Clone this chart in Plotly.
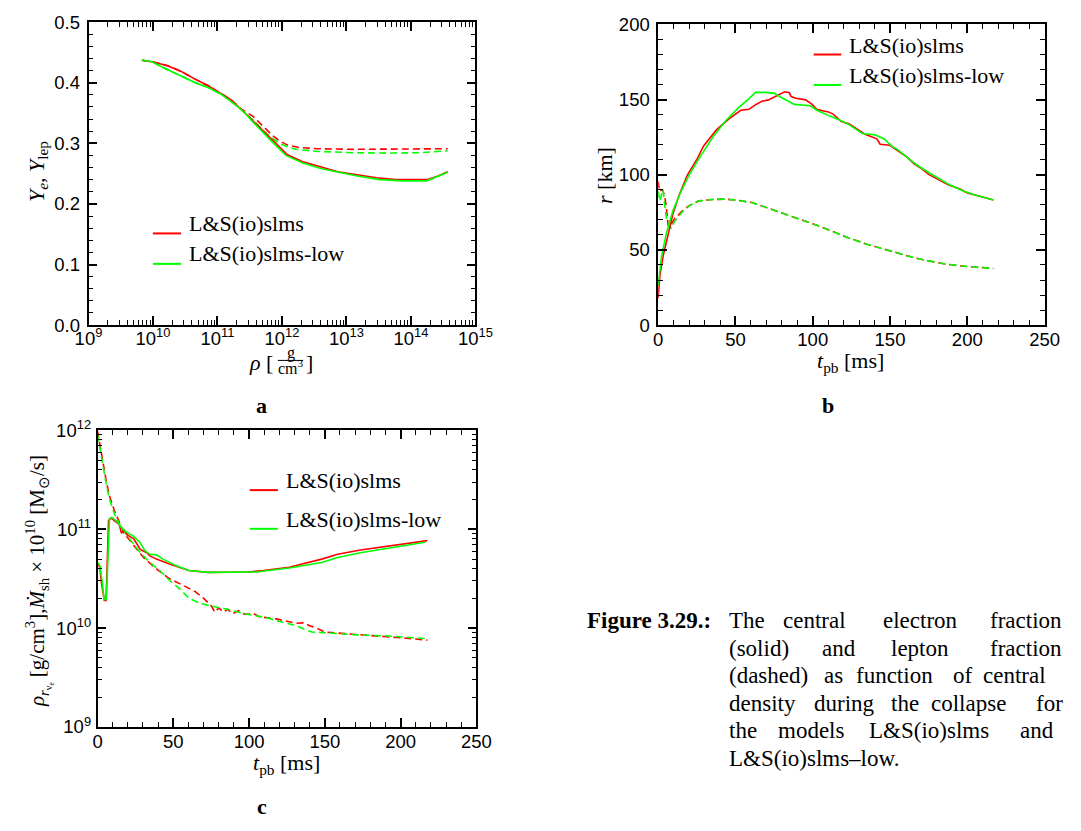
import plotly.graph_objects as go

# ---------------- panel a: central Ye / Ylep vs central density ----------------
a_rho_red = [6.73e9, 1.007e10, 1.69e10, 2.69e10, 4.28e10, 7.19e10, 1.14e11, 1.61e11, 2.29e11,
             3.24e11, 4.57e11, 6.47e11, 8.63e11, 1.22e12, 2.06e12, 4.11e12, 7.33e12, 1.47e13,
             2.93e13, 5.87e13, 1.05e14, 1.76e14, 2.64e14, 3.73e14]
a_ye_red = [0.437, 0.434, 0.428, 0.419, 0.407, 0.395, 0.382, 0.372, 0.357,
            0.341, 0.325, 0.309, 0.296, 0.281, 0.270, 0.261, 0.253, 0.248,
            0.243, 0.240, 0.240, 0.240, 0.246, 0.253]
a_rho_green = [6.73e9, 9.5e9, 1.43e10, 2.54e10, 4.53e10, 7.19e10, 1.14e11, 1.82e11, 2.56e11,
               3.63e11, 5.14e11, 7.26e11, 1.15e12, 2.06e12, 4.11e12, 7.33e12, 1.47e13,
               3.30e13, 7.40e13, 1.76e14, 2.64e14, 3.73e14]
a_ye_green = [0.437, 0.435, 0.425, 0.413, 0.400, 0.392, 0.381, 0.365, 0.352,
              0.334, 0.317, 0.301, 0.280, 0.268, 0.258, 0.252, 0.246,
              0.240, 0.238, 0.238, 0.245, 0.252]
a_rho_red_lep = [6.73e9, 1.007e10, 1.69e10, 2.69e10, 4.28e10, 7.19e10, 1.14e11, 1.61e11, 2.29e11,
                 2.88e11, 3.63e11, 4.57e11, 5.77e11, 7.26e11, 9.16e11, 1.22e12, 1.83e12,
                 3.66e12, 1.31e13, 4.15e13, 1.32e14, 3.73e14]
a_ylep_red = [0.437, 0.434, 0.428, 0.419, 0.407, 0.395, 0.382, 0.372, 0.357,
              0.350, 0.344, 0.333, 0.322, 0.312, 0.304, 0.297, 0.293,
              0.291, 0.290, 0.290, 0.290, 0.291]
a_rho_green_lep = [6.73e9, 9.5e9, 1.43e10, 2.54e10, 4.53e10, 7.19e10, 1.14e11, 1.82e11, 2.56e11,
                   3.63e11, 5.14e11, 7.26e11, 1.03e12, 1.63e12, 3.66e12, 1.31e13, 4.15e13,
                   1.32e14, 3.73e14]
a_ylep_green = [0.437, 0.435, 0.425, 0.413, 0.400, 0.392, 0.381, 0.365, 0.352,
                0.338, 0.321, 0.307, 0.297, 0.290, 0.2865, 0.2844, 0.2838,
                0.2844, 0.2876]

# ---------------- panel b: shock radius (solid) and nu_e sphere (dashed) ----------------
b_t_red = [0, 1.1, 3.2, 6.4, 9.5, 13.7, 18.9, 25.2, 29.4, 37.8, 46.2, 53.5, 58.7, 62.9, 67.1,
           71.3, 77.6, 81.8, 84.9, 86.0, 89.1, 95.4, 99.6, 102.7, 110.1, 113.2, 118.5, 123.7,
           130.0, 134.2, 141.5, 143.6, 149.9, 154.1, 160.3, 165.6, 169.8, 175.0, 181.3, 187.6,
           194.9, 200.1, 207.5, 212.7, 216.9]
b_r_red = [17.9, 33, 45.9, 61, 73.9, 86.8, 99.8, 110.6, 119.2, 130.0, 137.5, 142.9, 143.5, 146.5,
           148.9, 149.8, 153.2, 155.2, 154.5, 152.0, 150.9, 149.8, 146.8, 143.3, 141.8, 140.3,
           135.4, 133.8, 129.5, 126.7, 123.9, 120.3, 119.6, 116.6, 112.3, 107.3, 104.5, 100.2,
           96.6, 93.3, 90.7, 87.9, 85.8, 84.1, 83.2]
b_t_green = [0, 2.2, 5.3, 9.5, 14.8, 20, 26.3, 35.7, 44.1, 52.5, 58.7, 62.9, 69.2, 75.5, 77.6,
             80.7, 88.1, 98.5, 102.7, 111.1, 117.4, 123.7, 132.1, 140.4, 146.7, 150.9, 155.1,
             163.5, 167.7, 175.0, 181.3, 188.6, 197.0, 205.4, 211.7, 216.9]
b_r_green = [26.5, 45.9, 61, 76, 89, 99.8, 110.6, 125.6, 136.4, 145.1, 150.5, 154.8, 154.8, 154.1,
             152.5, 150.9, 146.8, 145.9, 142.9, 139.0, 136.4, 133.2, 127.4, 126.5, 123.5, 119.2,
             116.6, 109.5, 106.3, 101.5, 97.6, 93.3, 89.4, 86.4, 84.7, 83.2]
b_t_red_nu = [0, 0.8, 2.8, 4.2, 5.3, 6.4, 7.4, 10.6, 15.8, 20, 26.3, 35, 43, 50, 60.8, 70, 81.8,
              92, 102.7, 113, 123.7, 135, 146.7, 155, 165.6, 175, 186.6, 200, 216.9]
b_r_red_nu = [95.5, 89, 90, 86, 78.2, 66.4, 65.3, 70.7, 76.1, 79.5, 82.6, 83.5, 83.8, 83.2, 81.5,
              78.2, 73.9, 70, 66.4, 62.2, 57.8, 53.8, 50.2, 47.8, 44.8, 42.7, 40.5, 39, 37.7]
b_t_green_nu = [0, 1.1, 2.2, 3.2, 4.2, 5.5, 8.5, 10.6, 15.8, 20, 26.3, 35, 43, 50, 60.8, 70, 81.8,
                92, 102.7, 113, 123.7, 135, 146.7, 155, 165.6, 175, 186.6, 200, 216.9]
b_r_green_nu = [89, 82.5, 87, 90, 80, 70, 64.2, 69, 75.5, 79.3, 82.5, 83.5, 83.8, 83.2, 81.5,
                78.2, 73.9, 70, 66.4, 62.2, 57.8, 53.8, 50.2, 47.8, 44.8, 42.7, 40.5, 39, 37.7]

# ---------------- panel c: density at nu_e sphere (dashed), mass accretion rate (solid) ----------------
c_t_red = [0, 1.5, 2.6, 4.5, 5.6, 6.4, 7.3, 9.0, 11.1, 14.3, 15.8, 17.5, 19.7, 21.8, 23.9, 28.2,
           32.5, 34.6, 38.9, 47.4, 60.3, 73.1, 85.9, 98.7, 109.4, 126.5, 147.9, 158.5, 173.5,
           190.6, 205.6, 217.7]
c_mdot_red = [4.46e10, 4.13e10, 2.83e10, 1.9e10, 1.9e10, 6.03e10, 1.23e11, 1.30e11, 1.23e11,
              1.12e11, 9.12e10, 9.84e10, 8.79e10, 8.47e10, 8.02e10, 6.25e10, 5.79e10, 5.38e10,
              4.99e10, 4.46e10, 3.83e10, 3.66e10, 3.66e10, 3.69e10, 3.83e10, 4.13e10, 4.99e10,
              5.58e10, 6.17e10, 6.75e10, 7.28e10, 7.67e10]
c_t_green = [0, 1.5, 3.2, 4.3, 5.8, 6.8, 7.9, 9.4, 13.2, 15.3, 18.6, 23.9, 28.2, 31.4, 34.6, 38.9,
             43.2, 51.7, 60.3, 73.1, 85.9, 98.7, 105.1, 126.5, 147.9, 158.5, 173.5, 190.6,
             205.6, 216.2]
c_mdot_green = [4.62e10, 4.29e10, 2.83e10, 1.94e10, 1.97e10, 6.03e10, 1.28e11, 1.32e11, 1.19e11,
                1.06e11, 9.48e10, 8.47e10, 7.28e10, 6.03e10, 5.58e10, 5.51e10, 4.99e10, 4.29e10,
                3.83e10, 3.66e10, 3.65e10, 3.67e10, 3.69e10, 4.05e10, 4.62e10, 5.18e10, 5.79e10,
                6.40e10, 6.90e10, 7.38e10]
c_t_red_rho = [0, 1.5, 3.6, 5.8, 7.9, 11.1, 14.3, 17.5, 21.8, 26.1, 30.3, 38.9, 47.4, 56, 64.5,
               69.9, 75.2, 77.4, 80, 83, 86, 89, 93, 97, 103, 107, 111.5, 117.9, 130.8, 136,
               140.4, 143.6, 150, 156.4, 169.2, 186.3, 201.3, 217.7]
c_rho_red = [9.84e11, 7.28e11, 4.62e11, 3.05e11, 2.17e11, 1.55e11, 1.19e11, 9.12e10, 7.57e10,
             6.25e10, 5.18e10, 3.97e10, 3.17e10, 2.73e10, 2.34e10, 2.01e10, 1.67e10, 1.45e10,
             1.60e10, 1.45e10, 1.55e10, 1.40e10, 1.50e10, 1.38e10, 1.40e10, 1.30e10, 1.28e10,
             1.24e10, 1.12e10, 1.13e10, 1.05e10, 1.02e10, 9.12e9, 8.99e9, 8.59e9, 8.28e9,
             7.96e9, 7.55e9]
c_t_green_rho = [0, 1.5, 3.6, 5.8, 7.9, 11.1, 15.3, 19.7, 23.9, 28.2, 34.6, 41.0, 47.4, 53.8,
                 60.3, 66.7, 75.2, 85.9, 98.7, 111.5, 117.9, 130.8, 141.4, 150, 169.2, 190.6,
                 216.2]
c_rho_green = [9.12e11, 6.76e11, 4.29e11, 2.83e11, 2.02e11, 1.44e11, 1.06e11, 8.47e10, 7.02e10,
               5.79e10, 4.62e10, 3.83e10, 3.05e10, 2.53e10, 2.01e10, 1.80e10, 1.67e10, 1.55e10,
               1.38e10, 1.28e10, 1.19e10, 1.06e10, 9.12e9, 8.99e9, 8.59e9, 8.34e9, 7.85e9]

model_names = ["L&S(io)slms", "L&S(io)slms-low"]
colors = ["#ff0000", "#00ff00"]

log_ticks = [1e9, 1e10, 1e11, 1e12, 1e13, 1e14, 1e15]
log_labels = ["10<sup>%d</sup>" % e for e in range(9, 16)]
# minor ticks between decades (2..9 x 10^n)
log_minor_a = [m * 10.0 ** e for e in range(9, 15) for m in range(2, 10)]
log_minor_c = [m * 10.0 ** e for e in range(9, 12) for m in range(2, 10)]

W, H = 1081, 831
SERIF = "Liberation Serif"
SANS = "Liberation Sans"
LW = 1.6
DASH = "7px,4px"


def xdom(left, right):
    return [left / W, right / W]


def ydom(top, bottom):
    return [1 - bottom / H, 1 - top / H]


fig = go.Figure()

# panel a
for xs, ys, col, dash in [(a_rho_red_lep, a_ylep_red, colors[0], DASH),
                          (a_rho_green_lep, a_ylep_green, colors[1], DASH),
                          (a_rho_red, a_ye_red, colors[0], "solid"),
                          (a_rho_green, a_ye_green, colors[1], "solid")]:
    fig.add_trace(go.Scatter(x=xs, y=ys, mode="lines", xaxis="x", yaxis="y",
                             line=dict(color=col, width=LW, dash=dash), showlegend=False))
# panel b
for xs, ys, col, dash in [(b_t_red_nu, b_r_red_nu, colors[0], DASH),
                          (b_t_green_nu, b_r_green_nu, colors[1], DASH),
                          (b_t_red, b_r_red, colors[0], "solid"),
                          (b_t_green, b_r_green, colors[1], "solid")]:
    fig.add_trace(go.Scatter(x=xs, y=ys, mode="lines", xaxis="x2", yaxis="y2",
                             line=dict(color=col, width=LW, dash=dash), showlegend=False))
# panel c
for xs, ys, col, dash in [(c_t_red_rho, c_rho_red, colors[0], DASH),
                          (c_t_green_rho, c_rho_green, colors[1], DASH),
                          (c_t_red, c_mdot_red, colors[0], "solid"),
                          (c_t_green, c_mdot_green, colors[1], "solid")]:
    fig.add_trace(go.Scatter(x=xs, y=ys, mode="lines", xaxis="x3", yaxis="y3",
                             line=dict(color=col, width=LW, dash=dash), showlegend=False))

tickfont = dict(family=SANS, size=18.5, color="black")
common = dict(showline=True, linecolor="black", linewidth=1.5, mirror="allticks",
              ticks="inside", ticklen=9, tickwidth=1.8, tickcolor="black",
              showgrid=False, zeroline=False, tickfont=tickfont)


def minor_lin(d):
    return dict(ticks="inside", ticklen=5, tickwidth=1.4, tickcolor="black", dtick=d)


def minor_arr(vals):
    return dict(ticks="inside", ticklen=5, tickwidth=1.4, tickcolor="black",
                tickmode="array", tickvals=vals)


fig.update_layout(
    width=W, height=H, margin=dict(l=0, r=0, t=0, b=0),
    paper_bgcolor="white", plot_bgcolor="white",
    xaxis=dict(domain=xdom(76.7, 475), anchor="y", type="log", range=[9, 15],
               tickmode="array", tickvals=log_ticks, ticktext=log_labels, ticklabelstandoff=-4,
               minor=minor_arr(log_minor_a), **common),
    yaxis=dict(domain=ydom(9.3, 321), anchor="x", range=[0, 0.5], dtick=0.1, tickformat=".1f",
               ticklabelstandoff=3, minor=minor_lin(0.02), **common),
    xaxis2=dict(domain=xdom(663.2, 1061), anchor="y2", range=[0, 250], dtick=50,
                ticklabelstandoff=-3, minor=minor_lin(10), **common),
    yaxis2=dict(domain=ydom(11.7, 321), anchor="x2", range=[0, 200], dtick=50,
                ticklabelstandoff=3, minor=minor_lin(10), **common),
    xaxis3=dict(domain=xdom(86, 476), anchor="y3", range=[0, 250], dtick=50,
                ticklabelstandoff=-3, minor=minor_lin(10), **common),
    yaxis3=dict(domain=ydom(429.3, 734.3), anchor="x3", type="log", range=[9, 12],
                tickmode="array", tickvals=log_ticks[:4], ticktext=log_labels[:4],
                ticklabelstandoff=1, minor=minor_arr(log_minor_c), **common),
)

annotations = []
shapes = []


def text(x, y, s, size=22, family=SERIF, xanchor="left", yanchor="middle", angle=0):
    annotations.append(dict(x=x / W, y=1 - y / H, xref="paper", yref="paper", text=s,
                            showarrow=False, xanchor=xanchor, yanchor=yanchor, textangle=angle,
                            font=dict(family=family, size=size, color="black")))


def seg(x0, x1, y, color, width=2):
    shapes.append(dict(type="line", xref="paper", yref="paper", x0=x0 / W, x1=x1 / W,
                       y0=1 - y / H, y1=1 - y / H, line=dict(color=color, width=width)))


# legends (short line + model name)
for (lx0, lx1, ly, tx, ty) in [(143, 172, 226.7, 177.7, 216),
                               (823.3, 851.7, 42.7, 857.3, 33)]:
    seg(lx0, lx1, ly, colors[0])
    text(tx, ty, model_names[0])
    seg(lx0, lx1, ly + 31.3, colors[1])
    text(tx, ty + 31, model_names[1])
seg(242.7, 271.7, 490.7, colors[0])
text(277.7, 481, model_names[0])
seg(242.7, 271.7, 530.5, colors[1])
text(277.7, 521, model_names[1])

# axis titles
text(24, 163.3, "<i>Y<sub>e</sub></i>, <i>Y</i><sub>lep</sub>", xanchor="center", angle=-90)
text(269, 359, "<i>ρ</i> [", xanchor="right")
text(284.7, 350, "g", size=16, xanchor="center")
seg(271.7, 297.7, 357.3, "black", 1)
text(285.5, 364.5, "cm<sup>3</sup>", size=16, xanchor="center")
text(299, 359, "]")
text(607.3, 166.7, "<i>r</i> [km]", xanchor="center", angle=-90)
text(861.7, 359, "<i>t</i><sub>pb</sub> [ms]", xanchor="center")
text(280.8, 772, "<i>t</i><sub>pb</sub> [ms]", xanchor="center")
text(26, 584, "<i>ρ</i><sub><i>r</i><sub>ν<sub>e</sub></sub></sub> [g/cm<sup>3</sup>],"
              "<i>Ṁ</i><sub>sh</sub> × 10<sup>10</sup> [M<sub>⊙</sub>/s]",
     size=21, xanchor="center", angle=-90)

# panel letters
text(255, 404, "<b>a</b>", xanchor="center")
text(838, 404, "<b>b</b>", xanchor="center")
text(255, 816, "<b>c</b>", xanchor="center")

# caption, set word by word as justified lines
cap_size = 23
caption_lines = [
    [(734.2, "The"), (790, "central"), (893, "electron"), (1003, "fraction")],
    [(734.2, "(solid)"), (829.8, "and"), (900.5, "lepton"), (1002.3, "fraction")],
    [(734.2, "(dashed)"), (832.2, "as"), (864.3, "function"), (964.4, "of"), (996, "central")],
    [(734.2, "density"), (821.2, "during"), (900.5, "the"), (942, "collapse"), (1050.6, "for")],
    [(734.2, "the"), (785, "models"), (878, "L&S(io)slms"), (1034, "and")],
    [(734.2, "L&S(io)slms–low.")],
]
base0, step = 632.7, 28.3
text(588.3, base0 - 7.6, "<b>Figure 3.29.:</b>", size=cap_size)
for i, words in enumerate(caption_lines):
    for x, w in words:
        text(x, base0 + i * step - 7.6, w, size=cap_size)

fig.update_layout(annotations=annotations, shapes=shapes)
fig.write_html("out.html")
